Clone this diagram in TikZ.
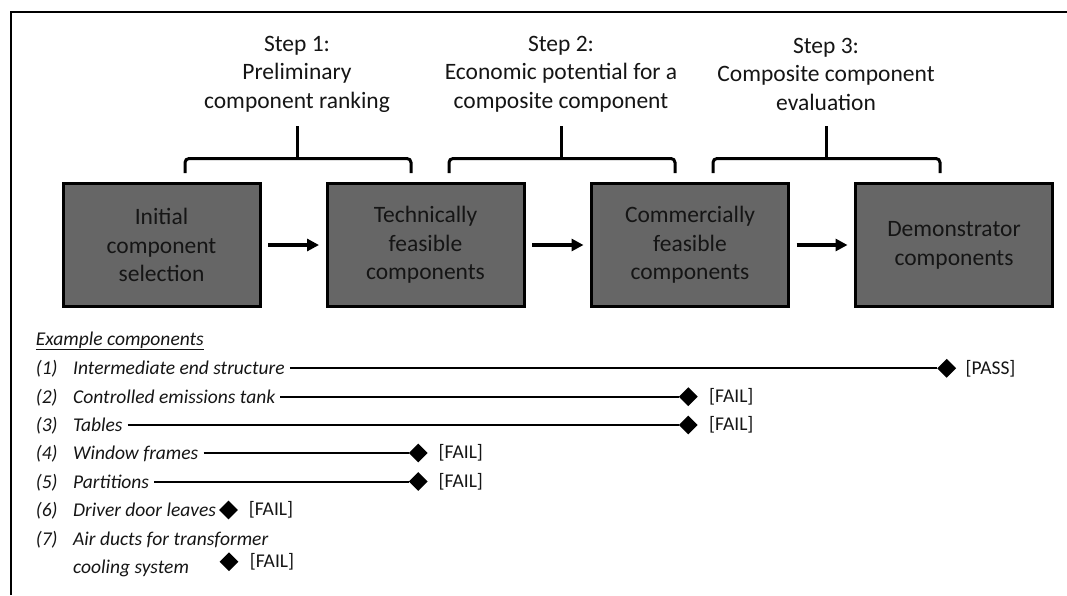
\documentclass[tikz,border=0pt]{standalone}
\usepackage{fontspec}
\setmainfont{Carlito}
\usetikzlibrary{arrows.meta,shapes.geometric,calc}
\definecolor{txt}{HTML}{151515}
\definecolor{boxfill}{HTML}{666666}
\begin{document}
\begin{tikzpicture}[x=1pt,y=-1pt,
  stepbox/.style={draw=black, line width=3pt, fill=boxfill, minimum width=197pt, minimum height=123pt, align=center, text=txt, font=\fontsize{23.5}{28.5}\selectfont, inner sep=0pt},
  flow/.style={line width=3.5pt, -{Triangle[length=12pt,width=12pt]}, shorten <=6.5pt, shorten >=6.5pt},
  brace/.style={line width=3pt, rounded corners=4pt},
  steplabel/.style={align=center, text=txt, font=\fontsize{23.5}{28.5}\selectfont, inner sep=0pt},
  listtext/.style={anchor=base west, inner sep=0pt, text=txt, font=\fontsize{19.5}{23}\selectfont\itshape},
  verdict/.style={anchor=west, inner sep=0pt, text=txt, font=\fontsize{19.5}{23}\selectfont},
  gem/.style={diamond, fill=black, minimum width=19pt, minimum height=19pt, inner sep=0pt},
  track/.style={line width=2pt}
]
\useasboundingbox (0,0) rectangle (1067,595);
% frame
\coordinate (fa) at (11,595);
\coordinate (fb) at (11,12);
\coordinate (fc) at (1067,12);
\draw[line width=2pt] (fa) -- (fb) -- (fc);

% boxes
\node[stepbox] (b1) at (161.5,245) {Initial\\component\\selection};
\node[stepbox] (b2) at (425.5,245) {Technically\\feasible\\components};
\node[stepbox] (b3) at (690,245) {Commercially\\feasible\\components};
\node[stepbox] (b4) at (954,245) {\raisebox{-2pt}{\begin{tabular}{@{}c@{}}Demonstrator\\[0.5pt]components\end{tabular}}};
\draw[flow] (b1) -- (b2);
\draw[flow] (b2) -- (b3);
\draw[flow] (b3) -- (b4);

% step labels
\node[steplabel] (s1) at (297,74) {Step 1:\\Preliminary\\component ranking};
\node[steplabel] (s2) at (561,74) {Step 2:\\Economic potential for a\\composite component};
\node[steplabel] (s3) at (826,74) {Step 3:\\Composite component\\evaluation};

% braces
\coordinate (b1l) at (185,173);   \coordinate (b1r) at (411,173);  \coordinate (b1t) at (297,126);
\coordinate (b2l) at (449,173);   \coordinate (b2r) at (675,173);  \coordinate (b2t) at (561,126);
\coordinate (b3l) at (713,173);   \coordinate (b3r) at (940,173);  \coordinate (b3t) at (826,126);
\draw[brace] (b1l) -- (b1l |- 0,158.5) -- (b1r |- 0,158.5) -- (b1r);
\draw[line width=3pt] (b1t |- 0,158.5) -- (b1t);
\draw[brace] (b2l) -- (b2l |- 0,158.5) -- (b2r |- 0,158.5) -- (b2r);
\draw[line width=3pt] (b2t |- 0,158.5) -- (b2t);
\draw[brace] (b3l) -- (b3l |- 0,158.5) -- (b3r |- 0,158.5) -- (b3r);
\draw[line width=3pt] (b3t |- 0,158.5) -- (b3t);

% example list
\node[listtext] (ex) at (35.7,345) {\underline{Example components}};

\node[listtext] (n1) at (35.7,374.8) {(1)};
\node[listtext] (t1) at (73,374.8) {Intermediate end structure};
\node[listtext] (n2) at (35.7,403.2) {(2)};
\node[listtext] (t2) at (73,403.2) {Controlled emissions tank};
\node[listtext] (n3) at (35.7,431.5) {(3)};
\node[listtext] (t3) at (73,431.5) {Tables};
\node[listtext] (n4) at (35.7,459.5) {(4)};
\node[listtext] (t4) at (73,459.5) {Window frames};
\node[listtext] (n5) at (35.7,488) {(5)};
\node[listtext] (t5) at (73,488) {Partitions};
\node[listtext] (n6) at (35.7,516.5) {(6)};
\node[listtext] (t6) at (73,516.5) {Driver door leaves};
\node[listtext] (n7) at (35.7,545) {(7)};
\node[listtext] (t7) at (73,545) {Air ducts for transformer};
\node[listtext] (t7b) at (73,573.5) {cooling system};

\node[gem] (d1) at (946.7,368.3) {};
\node[gem] (d2) at (688.3,396.7) {};
\node[gem] (d3) at (688.3,425) {};
\node[gem] (d4) at (418.3,453) {};
\node[gem] (d5) at (418.3,481.5) {};
\node[gem] (d6) at (228.5,510) {};
\node[gem] (d7) at (229,561.7) {};

\node[verdict] (v1) at ($(d1.east)+(9,0)$) {[PASS]};
\node[verdict] (v2) at ($(d2.east)+(11,0)$) {[FAIL]};
\node[verdict] (v3) at ($(d3.east)+(11,0)$) {[FAIL]};
\node[verdict] (v4) at ($(d4.east)+(10.5,0)$) {[FAIL]};
\node[verdict] (v5) at ($(d5.east)+(10.5,0)$) {[FAIL]};
\node[verdict] (v6) at ($(d6.east)+(10.5,0)$) {[FAIL]};
\node[verdict] (v7) at ($(d7.east)+(11,0)$) {[FAIL]};

\draw[track] ($(t1.east |- d1)+(5,0)$) -- (d1.west);
\draw[track] ($(t2.east |- d2)+(5,0)$) -- (d2.west);
\draw[track] ($(t3.east |- d3)+(5,0)$) -- (d3.west);
\draw[track] ($(t4.east |- d4)+(5,0)$) -- (d4.west);
\draw[track] ($(t5.east |- d5)+(5,0)$) -- (d5.west);
\end{tikzpicture}
\end{document}
